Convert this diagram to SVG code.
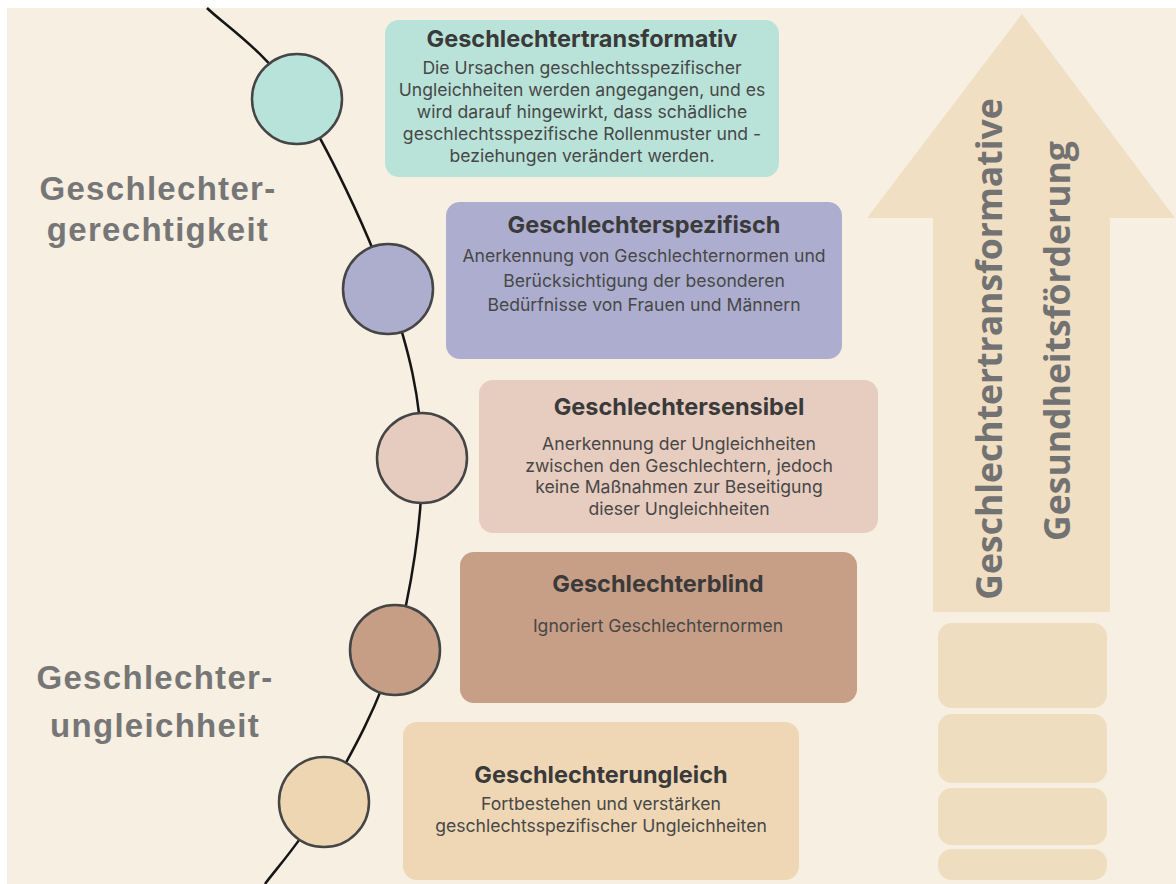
<svg xmlns="http://www.w3.org/2000/svg" width="1176" height="884" viewBox="0 0 1176 884">
<style>
.t{font-family:Inter,"Liberation Sans",sans-serif;font-weight:700;font-size:23.5px;fill:#3a3a3a;text-anchor:middle}
.b{font-family:Inter,"Liberation Sans",sans-serif;font-weight:400;font-size:17.6px;fill:#474747;text-anchor:middle}
.big{font-family:"Liberation Sans",Arial,sans-serif;font-weight:700;font-size:33px;fill:#767676;text-anchor:middle;letter-spacing:1.3px}
.ar{font-family:"Open Sans","Noto Sans",sans-serif;font-weight:700;font-size:35.5px;fill:#727272;text-anchor:middle}
.dot{stroke:#454545;stroke-width:2.5}
.stack{fill:#EFDDBF}
</style>
<rect x="0" y="0" width="1176" height="884" fill="#ffffff"/>
<rect x="7" y="8" width="1169" height="876" fill="#F6EFE2"/>
<g id="arrow">
<polygon points="1022,14 1175,218 1110,218 1110,612 933,612 933,218 867,218" fill="#F0DFC2"/>
<text class="ar" transform="translate(1002,349) rotate(-90)">Geschlechtertransformative</text>
<text class="ar" transform="translate(1070,341) rotate(-90)">Gesundheitsförderung</text>
</g>
<g id="stack">
<rect class="stack" x="938" y="623" width="169" height="85" rx="14"/>
<rect class="stack" x="938" y="714" width="169" height="69" rx="14"/>
<rect class="stack" x="938" y="788" width="169" height="57" rx="14"/>
<rect class="stack" x="938" y="849" width="169" height="31" rx="14"/>
</g>
<g id="label-gerechtigkeit">
<text class="big" x="158" y="200">Geschlechter-</text>
<text class="big" x="158" y="241">gerechtigkeit</text>
</g>
<g id="label-ungleichheit">
<text class="big" x="155" y="689">Geschlechter-</text>
<text class="big" x="155" y="737">ungleichheit</text>
</g>
<g id="connectors">
<path d="M207,8 C222,23 267,52 297,99 C327,146 367,229 388,289 C409,349 421,398 422,458 C423,518 411,593 395,650 C379,707 346,763 324,802 C302,841 275,870 265,884" fill="none" stroke="#151515" stroke-width="2.5"/>
</g>
<g id="node-transformativ">
<circle class="dot" cx="297" cy="99" r="45" fill="#B8E3DA"/>
<rect x="385" y="20" width="394" height="157" rx="14" fill="#B9E3D9"/>
<text class="t" x="582" y="47">Geschlechtertransformativ</text>
<text class="b" x="582" y="74">Die Ursachen geschlechtsspezifischer</text>
<text class="b" x="582" y="96">Ungleichheiten werden angegangen, und es</text>
<text class="b" x="582" y="118">wird darauf hingewirkt, dass schädliche</text>
<text class="b" x="582" y="140">geschlechtsspezifische Rollenmuster und -</text>
<text class="b" x="582" y="162">beziehungen verändert werden.</text>
</g>
<g id="node-spezifisch">
<circle class="dot" cx="388" cy="289" r="45" fill="#ADAECE"/>
<rect x="446" y="202" width="396" height="157" rx="14" fill="#ADAECF"/>
<text class="t" x="644" y="233">Geschlechterspezifisch</text>
<text class="b" x="644" y="262">Anerkennung von Geschlechternormen und</text>
<text class="b" x="644" y="287">Berücksichtigung der besonderen</text>
<text class="b" x="644" y="311">Bedürfnisse von Frauen und Männern</text>
</g>
<g id="node-sensibel">
<circle class="dot" cx="422" cy="458" r="45" fill="#E6CBBF"/>
<rect x="479" y="380" width="399" height="153" rx="14" fill="#E7CCC0"/>
<text class="t" x="679" y="415">Geschlechtersensibel</text>
<text class="b" x="679" y="450">Anerkennung der Ungleichheiten</text>
<text class="b" x="679" y="472">zwischen den Geschlechtern, jedoch</text>
<text class="b" x="679" y="493">keine Maßnahmen zur Beseitigung</text>
<text class="b" x="679" y="515">dieser Ungleichheiten</text>
</g>
<g id="node-blind">
<circle class="dot" cx="395" cy="650" r="45" fill="#C69D85"/>
<rect x="460" y="552" width="397" height="151" rx="14" fill="#C79E86"/>
<text class="t" x="658" y="592">Geschlechterblind</text>
<text class="b" x="658" y="632">Ignoriert Geschlechternormen</text>
</g>
<g id="node-ungleich">
<circle class="dot" cx="324" cy="802" r="45" fill="#EFD6B2"/>
<rect x="403" y="722" width="396" height="158" rx="14" fill="#EFD7B5"/>
<text class="t" x="601" y="783">Geschlechterungleich</text>
<text class="b" x="601" y="810">Fortbestehen und verstärken</text>
<text class="b" x="601" y="832">geschlechtsspezifischer Ungleichheiten</text>
</g>
</svg>
